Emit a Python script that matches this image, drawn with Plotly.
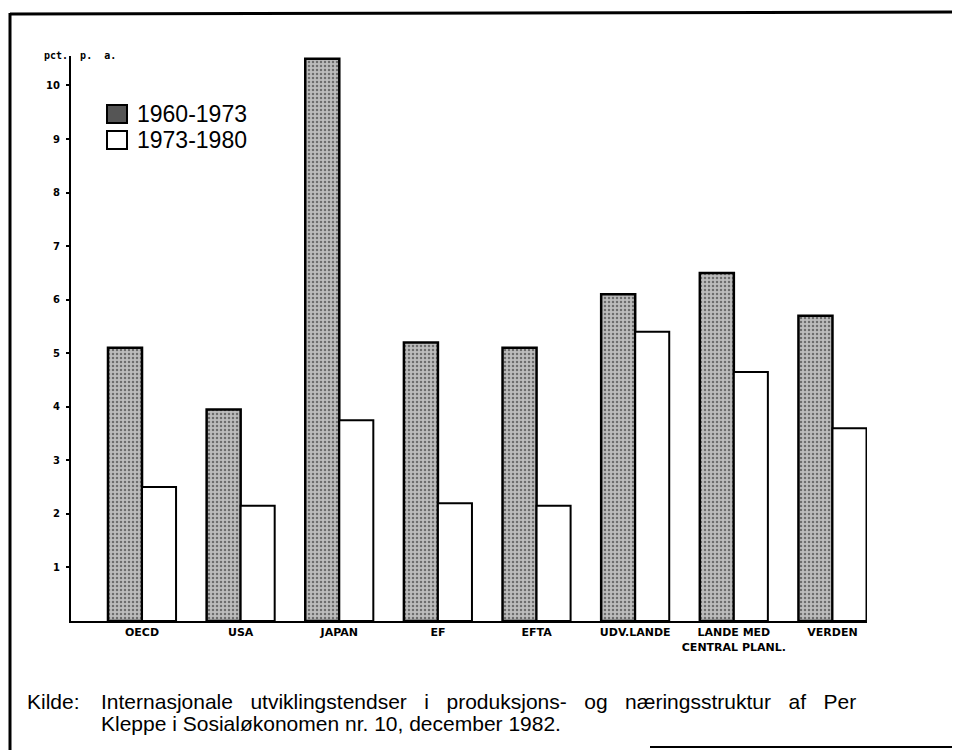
import plotly.graph_objects as go

categories = ["OECD", "USA", "JAPAN", "EF", "EFTA", "UDV.LANDE",
              "LANDE MED<br>CENTRAL PLANL.", "VERDEN"]
series_names = ["1960-1973", "1973-1980"]
values_1960_1973 = [5.1, 3.95, 10.5, 5.2, 5.1, 6.1, 6.5, 5.7]
values_1973_1980 = [2.5, 2.15, 3.75, 2.2, 2.15, 5.4, 4.65, 3.6]
y_tick_values = [1, 2, 3, 4, 5, 6, 7, 8, 9, 10]
y_title = "pct.  p.  a."
source_label = "Kilde:"
source_lines = ["Internasjonale utviklingstendser i produksjons- og næringsstruktur af Per",
                "Kleppe i Sosialøkonomen nr. 10, december 1982."]

# The page body has an 8px margin; figure coordinates = page coordinates - 8
OFF = 8
WIDTH, HEIGHT = 960 - OFF, 750 - OFF
L, R, T, B = 71 - OFF, 867 - OFF, 56 - OFF, 621 - OFF
PW, PH = R - L, B - T


def px(x):
    """page pixel x -> paper x"""
    return (x - OFF - L) / PW


def py(y):
    """page pixel y -> paper y"""
    return (B - (y - OFF)) / PH


fig = go.Figure()
fig.add_trace(go.Bar(
    x=categories, y=values_1960_1973, name=series_names[0],
    marker=dict(color="#bcbcbc",
                line=dict(color="black", width=2.5),
                pattern=dict(shape=".", fgcolor="#1e1e1e", bgcolor="#bcbcbc",
                             size=4, solidity=0.3, fillmode="overlay")),
    cliponaxis=False, showlegend=False,
))
fig.add_trace(go.Bar(
    x=categories, y=values_1973_1980, name=series_names[1],
    marker=dict(color="white", line=dict(color="black", width=2)),
    cliponaxis=False, showlegend=False,
))

shapes = []
annotations = []

# manual legend
legend_rows = [(series_names[0], 114), (series_names[1], 140)]
for i, (name, yc) in enumerate(legend_rows):
    fill = "#555555" if i == 0 else "white"
    shapes.append(dict(type="rect", xref="paper", yref="paper",
                       x0=px(107), x1=px(127), y0=py(yc - 9), y1=py(yc + 9),
                       fillcolor=fill, line=dict(color="black", width=2)))
    annotations.append(dict(text=name, xref="paper", yref="paper",
                            x=px(135), y=py(yc), xanchor="left", yanchor="middle",
                            showarrow=False,
                            font=dict(family="Liberation Sans", size=23, color="black")))

# y axis title
annotations.append(dict(text=y_title, xref="paper", yref="paper",
                        x=px(42), y=py(55), xanchor="left", yanchor="middle",
                        showarrow=False,
                        font=dict(family="DejaVu Sans Mono", size=10, color="black", weight="bold")))

# source text
src_font = dict(family="Liberation Sans", size=21, color="black")
annotations.append(dict(text=source_label, xref="paper", yref="paper",
                        x=px(25), y=py(701), xanchor="left", yanchor="middle",
                        showarrow=False, font=src_font))
line1 = "&nbsp;&nbsp; ".join(source_lines[0].split(" "))
annotations.append(dict(text=line1, xref="paper", yref="paper",
                        x=px(99), y=py(701), xanchor="left", yanchor="middle",
                        showarrow=False, font=src_font))
annotations.append(dict(text=source_lines[1], xref="paper", yref="paper",
                        x=px(99), y=py(723), xanchor="left", yanchor="middle",
                        showarrow=False, font=src_font))

# page frame (scanned page edges)
shapes.append(dict(type="line", xref="paper", yref="paper",
                   x0=px(10), x1=px(10), y0=py(13), y1=py(750),
                   line=dict(color="black", width=3)))
shapes.append(dict(type="line", xref="paper", yref="paper",
                   x0=px(10), x1=px(960), y0=py(14), y1=py(12),
                   line=dict(color="black", width=3)))
shapes.append(dict(type="line", xref="paper", yref="paper",
                   x0=px(650), x1=px(960), y0=py(747), y1=py(747),
                   line=dict(color="black", width=2)))

fig.update_layout(
    width=WIDTH, height=HEIGHT,
    margin=dict(l=L, r=WIDTH - R, t=T, b=HEIGHT - B, pad=0),
    paper_bgcolor="white", plot_bgcolor="white",
    barmode="group", bargap=0.31, bargroupgap=0,
    showlegend=False,
    shapes=shapes, annotations=annotations,
    xaxis=dict(range=[-0.72, 7.35], showgrid=False, zeroline=False,
               showline=True, linecolor="black", linewidth=2, ticks="",
               tickfont=dict(family="DejaVu Sans", size=11, color="black", weight="bold")),
    yaxis=dict(range=[0, 10.55], showgrid=False, zeroline=False,
               showline=True, linecolor="black", linewidth=2,
               tickvals=y_tick_values, ticks="outside", ticklen=3, tickwidth=2,
               tickcolor="black", ticklabelstandoff=4,
               tickfont=dict(family="DejaVu Sans", size=10, color="black", weight="bold")),
)

fig.write_html("out.html")
